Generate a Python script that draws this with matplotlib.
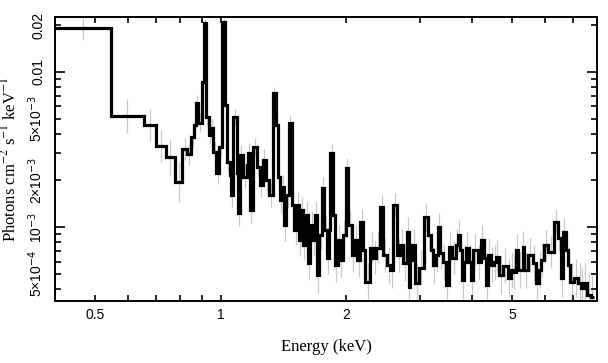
import numpy as np
import matplotlib
matplotlib.use("Agg")
import matplotlib.pyplot as plt
from matplotlib.ticker import FixedLocator, FixedFormatter, NullFormatter

# Bin edges (keV) of the unfolded spectrum
edges = [
    0.40, 0.545, 0.653, 0.697, 0.737, 0.775, 0.809, 0.828, 0.850, 0.861,
    0.871, 0.880, 0.899, 0.910, 0.920, 0.936, 0.946, 0.957, 0.976, 0.989,
    1.009, 1.022, 1.032, 1.051, 1.060, 1.072, 1.091, 1.099, 1.111, 1.130,
    1.153, 1.161, 1.174, 1.194, 1.221, 1.241, 1.262, 1.283, 1.305, 1.332,
    1.356, 1.372, 1.387, 1.403, 1.418, 1.434, 1.458, 1.480, 1.499, 1.524,
    1.541, 1.558, 1.576, 1.593, 1.620, 1.638, 1.666, 1.684, 1.703, 1.722,
    1.751, 1.771, 1.801, 1.816, 1.831, 1.861, 1.882, 1.908, 1.934, 1.961,
    1.996, 2.022, 2.067, 2.096, 2.125, 2.161, 2.197, 2.222, 2.285, 2.324,
    2.363, 2.415, 2.456, 2.509, 2.553, 2.595, 2.651, 2.698, 2.744, 2.791,
    2.822, 2.852, 2.884, 2.932, 2.982, 3.066, 3.135, 3.187, 3.223, 3.277,
    3.313, 3.350, 3.406, 3.463, 3.520, 3.598, 3.659, 3.700, 3.741, 3.783,
    3.825, 3.868, 3.933, 3.977, 4.022, 4.134, 4.204, 4.274, 4.322, 4.370,
    4.444, 4.519, 4.569, 4.646, 4.750, 4.884, 4.966, 5.021, 5.106, 5.163,
    5.309, 5.339, 5.458, 5.612, 5.707, 5.803, 5.864, 5.962, 6.096, 6.300,
    6.441, 6.551, 6.625, 6.738, 6.815, 6.873, 7.050, 7.214, 7.318, 7.445,
    7.547, 7.736, 7.865,
]

# Photons cm^-2 s^-1 keV^-1 in each bin
flux = [
    0.0192, 0.00521, 0.00456, 0.00334, 0.00284, 0.00196, 0.0032, 0.00296, 0.00381, 0.00456,
    0.00631, 0.0047, 0.00862, 0.0207, 0.00513, 0.00393, 0.00436, 0.00306, 0.00224, 0.00329,
    0.021, 0.00613, 0.00263, 0.00217, 0.00161, 0.00513, 0.00224, 0.00124, 0.00292, 0.00211,
    0.00252, 0.00301, 0.00129, 0.00329, 0.00245, 0.00187, 0.00271, 0.00202, 0.00161, 0.00732,
    0.00456, 0.00211, 0.0015, 0.00182, 0.00103, 0.00161, 0.0047, 0.00139, 0.000962, 0.00139,
    0.000828, 0.00129, 0.000769, 0.0012, 0.000589, 0.00103, 0.000828, 0.0012, 0.000493, 0.000892,
    0.00179, 0.000962, 0.000636, 0.000962, 0.00301, 0.0012, 0.000572, 0.000828, 0.000616, 0.000892,
    0.00241, 0.00103, 0.000663, 0.000828, 0.000616, 0.00108, 0.000714, 0.000445, 0.000736, 0.000636,
    0.000736, 0.00135, 0.000663, 0.000572, 0.000531, 0.00139, 0.000663, 0.000769, 0.000589, 0.000933,
    0.000413, 0.000616, 0.000769, 0.000439, 0.000548, 0.00116, 0.000892, 0.000714, 0.000572, 0.000663,
    0.001, 0.000684, 0.000598, 0.000425, 0.000745, 0.000636, 0.000769, 0.000892, 0.000714, 0.000458,
    0.000598, 0.000736, 0.000598, 0.000458, 0.000714, 0.000598, 0.000828, 0.000636, 0.000425, 0.000663,
    0.000572, 0.000598, 0.000645, 0.000493, 0.000564, 0.000472, 0.000531, 0.000516, 0.000714, 0.000531,
    0.000745, 0.000531, 0.000663, 0.000589, 0.000439, 0.000531, 0.000616, 0.000769, 0.000694, 0.00108,
    0.000853, 0.000472, 0.000933, 0.000714, 0.000572, 0.000445, 0.000472, 0.000439, 0.000406, 0.000439,
    0.000366, 0.000356,
]

# relative 1-sigma errors (grey bars)
rel_err = [
    0.20, 0.28, 0.26, 0.26, 0.30, 0.35, 0.18, 0.18, 0.16, 0.15,
    0.12, 0.15, 0.10, 0.06, 0.14, 0.15, 0.15, 0.16, 0.18, 0.15,
    0.06, 0.12, 0.16, 0.18, 0.20, 0.12, 0.18, 0.22, 0.16, 0.18,
    0.17, 0.16, 0.22, 0.15, 0.17, 0.20, 0.17, 0.19, 0.20, 0.10,
    0.13, 0.20, 0.22, 0.20, 0.26, 0.21, 0.13, 0.22, 0.25, 0.22,
    0.26, 0.22, 0.26, 0.22, 0.28, 0.24, 0.26, 0.22, 0.30, 0.25,
    0.18, 0.24, 0.28, 0.24, 0.14, 0.22, 0.28, 0.25, 0.28, 0.25,
    0.16, 0.24, 0.28, 0.25, 0.28, 0.22, 0.26, 0.32, 0.26, 0.28,
    0.26, 0.20, 0.28, 0.30, 0.30, 0.20, 0.28, 0.26, 0.30, 0.25,
    0.34, 0.28, 0.26, 0.34, 0.30, 0.22, 0.25, 0.28, 0.30, 0.28,
    0.24, 0.28, 0.30, 0.34, 0.26, 0.28, 0.26, 0.25, 0.27, 0.32,
    0.30, 0.27, 0.30, 0.32, 0.27, 0.28, 0.25, 0.28, 0.33, 0.28,
    0.30, 0.28, 0.28, 0.32, 0.30, 0.32, 0.30, 0.30, 0.27, 0.30,
    0.26, 0.30, 0.28, 0.30, 0.34, 0.30, 0.28, 0.25, 0.26, 0.20,
    0.22, 0.32, 0.22, 0.26, 0.30, 0.33, 0.32, 0.33, 0.35, 0.34,
    0.38, 0.38,
]

x_major = [0.5, 1, 2, 5]
x_major_labels = ["0.5", "1", "2", "5"]
x_minor = [0.6, 0.7, 0.8, 0.9, 3, 4, 6, 7]

y_ticks = [0.02, 0.01, 9e-3, 8e-3, 7e-3, 6e-3, 5e-3, 4e-3, 3e-3, 2e-3,
           1e-3, 9e-4, 8e-4, 7e-4, 6e-4, 5e-4, 4e-4]
y_labeled = {0.02: "0.02", 0.01: "0.01", 5e-3: r"5×10$^{-3}$",
             2e-3: r"2×10$^{-3}$", 1e-3: r"10$^{-3}$", 5e-4: r"5×10$^{-4}$"}

plt.rcParams["font.family"] = ["Liberation Sans", "DejaVu Sans"]

fig = plt.figure(figsize=(6.08, 3.63), dpi=100)
ax = fig.add_axes([0.0905, 0.171, 0.8915, 0.782])

edges_a = np.array(edges)
flux_a = np.array(flux)
err_a = np.array(rel_err)
centers = np.sqrt(edges_a[:-1] * edges_a[1:])

ax.vlines(centers, flux_a / (1 + err_a), flux_a * (1 + err_a),
          color="#c8c8c8", lw=0.9, zorder=1)
ax.stairs(flux_a, edges_a, baseline=None, color="black", lw=2.3, zorder=2)

ax.set_xscale("log")
ax.set_yscale("log")
ax.set_xlim(0.4, 8.0)
ax.set_ylim(3.35e-4, 0.0226)

ax.xaxis.set_major_locator(FixedLocator(x_major))
ax.xaxis.set_major_formatter(FixedFormatter(x_major_labels))
ax.xaxis.set_minor_locator(FixedLocator(x_minor))
ax.xaxis.set_minor_formatter(NullFormatter())

ax.yaxis.set_major_locator(FixedLocator(y_ticks))
ax.yaxis.set_major_formatter(FixedFormatter([y_labeled.get(t, "") for t in y_ticks]))
ax.yaxis.set_minor_locator(FixedLocator([]))

ax.tick_params(which="both", direction="in", top=True, right=True,
               width=1.2, length=4, labelsize=10)
ax.tick_params(axis="x", pad=5)
ax.tick_params(axis="y", pad=7)
for lab in ax.get_yticklabels():
    lab.set_rotation(90)
    lab.set_va("center")
# longer ticks at decades
for t, tick in zip(y_ticks, ax.yaxis.get_major_ticks()):
    if t in (0.01, 1e-3):
        tick.tick1line.set_markersize(7)
        tick.tick2line.set_markersize(7)

for sp in ax.spines.values():
    sp.set_linewidth(1.4)

ax.set_xlabel("Energy (keV)", family="Liberation Serif", fontsize=12, labelpad=12)
ax.set_ylabel(r"Photons cm$^{-2}$ s$^{-1}$ keV$^{-1}$", family="Liberation Serif",
              fontsize=12, math_fontfamily="stix", labelpad=5)

fig.savefig("out.png", dpi=100)
